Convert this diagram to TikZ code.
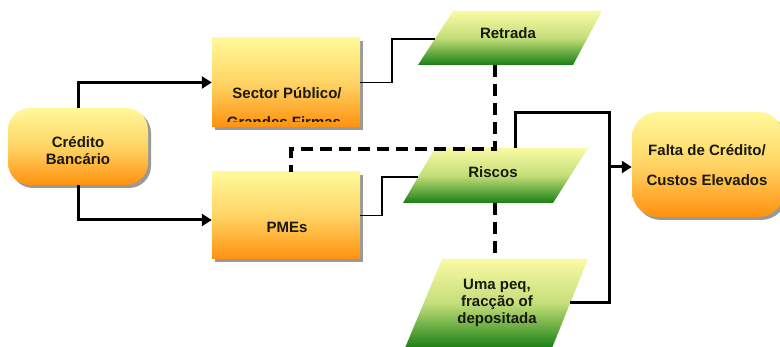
\documentclass[tikz,border=0pt]{standalone}
\usepackage{fontspec}
\setmainfont{Liberation Sans}
\usetikzlibrary{arrows.meta,shadows}
\definecolor{oy}{RGB}{255,249,155}
\definecolor{om}{RGB}{255,212,100}
\definecolor{ob}{RGB}{255,145,15}
\definecolor{gy}{RGB}{250,250,165}
\definecolor{gm}{RGB}{195,222,120}
\definecolor{gb}{RGB}{25,128,20}
\definecolor{txt}{RGB}{25,25,15}
\begin{document}
\begin{tikzpicture}[x=1pt,y=-1pt,
  orangebox/.style={draw=none, inner sep=0pt, top color=oy, bottom color=ob, middle color=om,
    drop shadow={shadow xshift=3pt, shadow yshift=-3pt, fill=black!40, opacity=1}},
  greenpar/.style={top color=gy, bottom color=gb, middle color=gm},
  lbl/.style={font=\bfseries\fontsize{15}{17}\selectfont, text=txt, align=center, inner sep=0pt},
  thickarrow/.style={line width=3pt, -{Triangle[length=10pt,width=12pt]}},
  thickline/.style={line width=3pt},
  thinline/.style={line width=1.4pt},
  dashline/.style={line width=3.5pt, dash pattern=on 12pt off 7pt}]
\useasboundingbox (0,0) rectangle (780,347);

% orange boxes
\node[orangebox, rounded corners=22pt, minimum width=140pt, minimum height=77pt] (credito) at (78,146.5) {};
\node[orangebox, minimum width=148pt, minimum height=89pt] (sector) at (286,82.5) {};
\node[orangebox, minimum width=148pt, minimum height=87pt] (pmes) at (286,215.5) {};
\node[orangebox, rounded corners=26pt, minimum width=152pt, minimum height=105pt] (falta) at (708,164.5) {};

% green parallelograms
\coordinate (r1) at (453,11); \coordinate (r2) at (602,11); \coordinate (r3) at (573,65); \coordinate (r4) at (418,65);
\shade[greenpar] (r1) -- (r2) -- (r3) -- (r4) -- cycle;
\coordinate (k1) at (435,148); \coordinate (k2) at (588,148); \coordinate (k3) at (553,203); \coordinate (k4) at (403,203);
\shade[greenpar] (k1) -- (k2) -- (k3) -- (k4) -- cycle;
\coordinate (u1) at (442,259); \coordinate (u2) at (588,259); \coordinate (u3) at (552,348); \coordinate (u4) at (405,348);
\shade[greenpar] (u1) -- (u2) -- (u3) -- (u4) -- cycle;

% texts
\node[lbl] (tcredito) at (78,151) {Crédito\\Bancário};
\node[lbl] (tsector) at (287,93) {Sector Público/};
\begin{scope}
  \clip (212,38) rectangle (360,122);
  \node[lbl] (tgrandes) at (284,122.5) {Grandes Firmas};
\end{scope}
\node[lbl] (tpmes) at (287,227) {PMEs};
\node[lbl] (tretrada) at (508,33) {Retrada};
\node[lbl] (triscos) at (493,172) {Riscos};
\node[lbl] (tuma) at (497,303) {Uma peq,\\fracção of\\depositada};
\node[lbl, font=\bfseries\fontsize{15}{30}\selectfont] (tfalta) at (707,165) {Falta de Crédito/\\Custos Elevados};

% connector points
\coordinate (ret-in) at (435,39);
\coordinate (ris-in) at (418,177);
\coordinate (ris-top) at (515,148);
\coordinate (uma-out) at (570,303);
\coordinate (bus) at (609,167);
\coordinate (ret-bot) at (495,65);
\coordinate (ris-bot) at (495,203);
\coordinate (uma-top) at (495,259);
\coordinate (pmes-top) at (291,172);

% solid connectors
\draw[thickarrow] (credito.north) |- (sector.west);
\draw[thickarrow] (credito.south) |- ([yshift=-4.5pt]pmes.west);
\draw[thinline] (sector.east) -| (392,39) -- (ret-in);
\draw[thinline] (pmes.east) -| (382,177) -- (ris-in);
\draw[thickline] (ris-top) |- (609,113) |- (uma-out);
\draw[thickarrow] (bus) -- (falta.west |- bus);

% dashed connectors
\draw[dashline] (ret-bot) -- (495,149) -| (pmes-top);
\draw[dashline] (ris-bot) -- (uma-top);
\end{tikzpicture}
\end{document}
